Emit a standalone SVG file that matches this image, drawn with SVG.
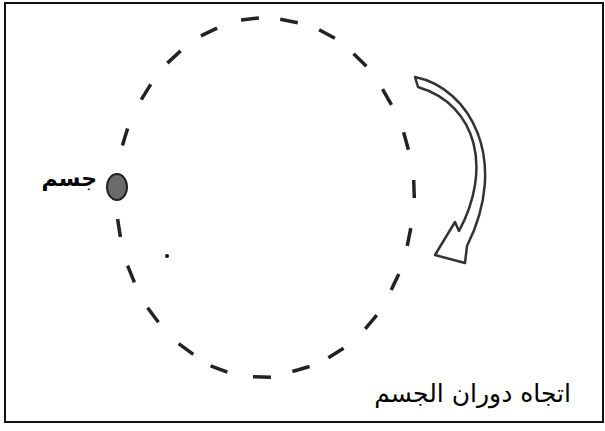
<svg xmlns="http://www.w3.org/2000/svg" width="605" height="431" viewBox="0 0 605 431">
<style>
.frame{fill:#fff;stroke:#111;stroke-width:2}
.dash{stroke:#222;stroke-width:3.5;stroke-linecap:butt}
.lbl{font-family:"DejaVu Sans","Liberation Sans",sans-serif;fill:#000;direction:rtl}
.arrow{fill:#fff;stroke:#333;stroke-width:2.5;stroke-linejoin:round}
</style>
<rect class="frame" x="5" y="3" width="598" height="419"/>
<g id="connectors">
<g id="orbit" class="dash">
<line x1="167.4" y1="63.1" x2="180.6" y2="50.9"/>
<line x1="200.9" y1="35.9" x2="217.1" y2="28.1"/>
<line x1="241.1" y1="20.1" x2="258.9" y2="17.9"/>
<line x1="280.2" y1="19.3" x2="297.8" y2="22.7"/>
<line x1="319.1" y1="29.7" x2="334.9" y2="38.3"/>
<line x1="353.6" y1="53.7" x2="366.4" y2="66.3"/>
<line x1="382.5" y1="89.2" x2="391.5" y2="104.8"/>
<line x1="403.6" y1="132.3" x2="408.4" y2="149.7"/>
<line x1="413.7" y1="180" x2="414.3" y2="198"/>
<line x1="410.8" y1="228.2" x2="407.2" y2="245.8"/>
<line x1="398.8" y1="273.9" x2="391.2" y2="290.1"/>
<line x1="376.8" y1="315.1" x2="365.2" y2="328.9"/>
<line x1="343.6" y1="348.2" x2="328.4" y2="357.8"/>
<line x1="309.6" y1="366.5" x2="292.4" y2="371.5"/>
<line x1="271" y1="377.2" x2="253" y2="376.8"/>
<line x1="227.4" y1="372.2" x2="210.6" y2="365.8"/>
<line x1="193.3" y1="354.3" x2="178.7" y2="343.7"/>
<line x1="158.4" y1="322.2" x2="147.6" y2="307.8"/>
<line x1="134.4" y1="282.3" x2="127.6" y2="265.7"/>
<line x1="120.4" y1="236.9" x2="117.6" y2="219.1"/>
<line x1="122.4" y1="145.6" x2="127.6" y2="128.4"/>
<line x1="141.3" y1="99.7" x2="150.7" y2="84.3"/>
</g>
<path id="rotation-arrow" class="arrow" d="M415,77 C470,88 510,160 467,246 L465,263 L435,255 L455,222 L459,231 C492,170 478,105 418,87 Z"/>
</g>
<g id="body">
<ellipse cx="117" cy="187" rx="10" ry="13" fill="#6a6a6a" stroke="#222" stroke-width="2"/>
<text class="lbl" x="97" y="186" font-size="22" font-weight="bold" text-anchor="start">جسم</text>
</g>
<g id="dot">
<circle cx="167" cy="256" r="2" fill="#111"/>
</g>
<g id="direction-label">
<text class="lbl" x="571" y="402" font-size="25" text-anchor="start">اتجاه دوران الجسم</text>
</g>
</svg>
